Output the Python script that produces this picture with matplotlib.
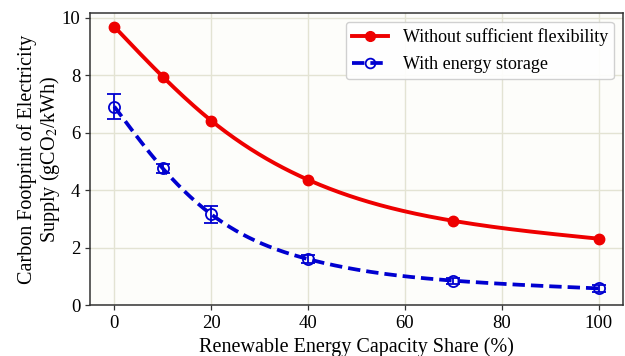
import numpy as np
import matplotlib
matplotlib.use("Agg")
import matplotlib.pyplot as plt

x = [0, 10, 20, 40, 70, 100]
no_flex = [9.69, 7.95, 6.42, 4.36, 2.93, 2.31]
storage = [6.91, 4.76, 3.16, 1.60, 0.85, 0.58]
storage_err = [0.43, 0.15, 0.30, 0.15, 0.10, 0.12]
labels = ["Without sufficient flexibility", "With energy storage"]


def natural_spline(xs, ys, xn):
    xs = np.asarray(xs, float); ys = np.asarray(ys, float)
    n = len(xs)
    h = np.diff(xs)
    A = np.zeros((n, n)); b = np.zeros(n)
    A[0, 0] = 1; A[-1, -1] = 1
    for i in range(1, n - 1):
        A[i, i - 1] = h[i - 1]
        A[i, i] = 2 * (h[i - 1] + h[i])
        A[i, i + 1] = h[i]
        b[i] = 3 * ((ys[i + 1] - ys[i]) / h[i] - (ys[i] - ys[i - 1]) / h[i - 1])
    c = np.linalg.solve(A, b)
    out = np.empty_like(xn)
    for k, xv in enumerate(xn):
        i = min(max(np.searchsorted(xs, xv) - 1, 0), n - 2)
        dx = xv - xs[i]
        bi = (ys[i + 1] - ys[i]) / h[i] - h[i] * (2 * c[i] + c[i + 1]) / 3
        di = (c[i + 1] - c[i]) / (3 * h[i])
        out[k] = ys[i] + bi * dx + c[i] * dx ** 2 + di * dx ** 3
    return out


plt.rcParams['font.family'] = ['Liberation Serif', 'DejaVu Serif']
plt.rcParams['mathtext.fontset'] = 'stix'

fig = plt.figure(figsize=(6.25, 3.56), dpi=100)
ax = fig.add_axes([0.144, 0.143, 0.853, 0.821])
ax.set_facecolor('#fdfdfa')

xs = np.linspace(min(x), max(x), 300)
red = '#ee0000'
blue = '#0000d0'
ax.plot(xs, natural_spline(x, no_flex, xs), color=red, lw=2.8, zorder=3)
ax.plot(xs, natural_spline(x, storage, xs), color=blue, lw=2.7, ls=(0, (3.3, 1.6)), zorder=3)
ax.plot(x, no_flex, 'o', color=red, ms=7.5, zorder=4)
ax.errorbar(x, storage, yerr=storage_err, fmt='o', mfc='none', mec=blue, ecolor=blue,
            ms=8, mew=1.3, elinewidth=1.3, capsize=5, capthick=1.3, zorder=4)

h1, = ax.plot([], [], '-o', color=red, lw=2.8, ms=7)
h2, = ax.plot([], [], '--o', color=blue, lw=2.7, ms=7, mfc='none', mew=1.3,
              dashes=(3.3, 1.6))
leg = ax.legend([h1, h2], labels, loc='upper right', fontsize=13, frameon=True,
                framealpha=0.9, edgecolor='#cccccc', fancybox=True,
                handlelength=2.0, handletextpad=0.8, borderpad=0.35,
                labelspacing=0.55, borderaxespad=0.5)

ax.set_xlim(-5, 105)
ax.set_ylim(0, 10.17)
ax.set_xticks([0, 20, 40, 60, 80, 100])
ax.set_yticks([0, 2, 4, 6, 8, 10])
ax.grid(True, color='#e3e3d3', lw=1.0, zorder=0)
ax.set_axisbelow(True)
ax.tick_params(labelsize=13.5, length=3.5, width=0.9, color='#333333')
for s in ax.spines.values():
    s.set_color('#333333')
    s.set_linewidth(1.1)
ax.set_xlabel('Renewable Energy Capacity Share (%)', fontsize=14.5, labelpad=4)
ax.set_ylabel('Carbon Footprint of Electricity\nSupply (gCO$_2$/kWh)', fontsize=14.5,
              labelpad=0, linespacing=1.05)

fig.savefig('out.png', dpi=100, facecolor='white')
